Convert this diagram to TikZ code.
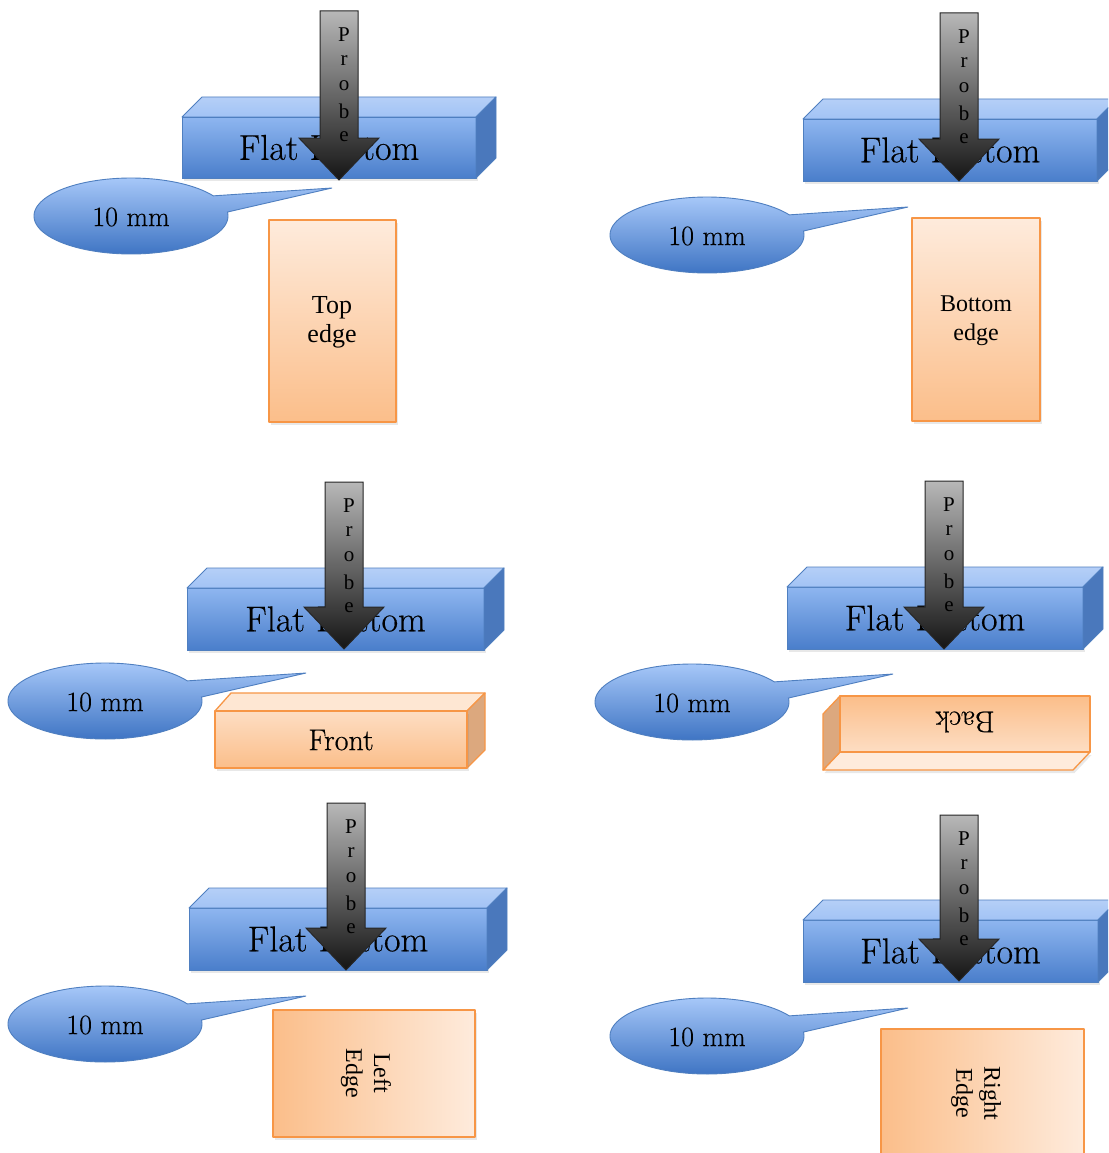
\documentclass[tikz,border=0pt]{standalone}
\usepackage{fontspec}
\usetikzlibrary{shadows}
\newfontfamily\timesf{Liberation Serif}
\newfontfamily\lmf[FakeBold=0.4]{Latin Modern Roman}
\definecolor{bedge}{HTML}{4F7FC0}
\definecolor{bfronttop}{HTML}{8EB6F0}
\definecolor{bfrontbot}{HTML}{4A7ECB}
\definecolor{btop}{HTML}{A2C3F5}
\definecolor{bright}{HTML}{4A78BC}
\definecolor{ctop}{HTML}{A6C7F8}
\definecolor{cbot}{HTML}{3F75C4}
\definecolor{oedge}{HTML}{F79646}
\definecolor{olight}{HTML}{FEEBDC}
\definecolor{odark}{HTML}{FBBE8A}
\definecolor{otopface}{HTML}{FEE7D3}
\definecolor{oside}{HTML}{DCA87E}
\tikzset{
  softshadow/.style={drop shadow={opacity=0.18, shadow xshift=1.5pt, shadow yshift=-3pt}},
  bluebox/.style={draw=bedge, line width=0.9pt, line join=round},
  flattext/.style={font=\lmf\fontsize{36}{40}\selectfont, inner sep=0pt},
  probestyle/.style={draw=black!85, line width=1pt, line join=miter, top color=black!28, bottom color=black!92},
  probetext/.style={font=\timesf\fontsize{21}{24}\selectfont, inner sep=0pt},
  callstyle/.style={draw=bedge, line width=0.9pt, top color=ctop, bottom color=cbot},
  mmtext/.style={font=\lmf\fontsize{28}{32}\selectfont, inner sep=0pt},
  orangebox/.style={draw=oedge, line width=1.3pt, line join=round},
  sampletext/.style={font=\timesf\fontsize{26}{29}\selectfont, align=center, inner sep=0pt},
  facetext/.style={font=\lmf\fontsize{30}{34}\selectfont, inner sep=0pt}
}
% flat bottom block: name, x1, y1, x2, y2 (front face)
\newcommand{\flatblock}[5]{%
  \draw[bluebox, softshadow, top color=bfronttop, bottom color=bfrontbot] (#2,#3) rectangle (#4,#5);
  \draw[bluebox, top color=btop!80!white, bottom color=btop] (#2,#3) -- ({#2+20},{#3-20}) -- ({#4+20},{#3-20}) -- (#4,#3) -- cycle;
  \draw[bluebox, fill=bright] (#4,#3) -- ({#4+20},{#3-20}) -- ({#4+20},{#5-20}) -- (#4,#5) -- cycle;
  \node[flattext] (#1) at ({(#2+#4)/2},{(#3+#5)/2}) {Flat Bottom};
}
% probe arrow: name, cx, ytop, ytip
\newcommand{\probearrow}[4]{%
  \draw[probestyle] ({#2-19},#3) -- ({#2+19},#3) -- ({#2+19},{#4-42}) -- ({#2+40},{#4-42}) -- (#2,#4) -- ({#2-40},{#4-42}) -- ({#2-19},{#4-42}) -- cycle;
  \foreach \l [count=\i] in {P,r,o,b,e}
    \node[probetext] (#1l\i) at ({#2+5},{#3+24+25.5*(\i-1)}) {\l};
}
% callout: name, cx, cy
\newcommand{\callout}[3]{%
  \draw[callstyle] ({#2+97*cos(-32)},{#3+38*sin(-32)}) -- ({#2+201},{#3-28})
    -- plot[domain=-6:328, samples=120] ({#2+97*cos(\x)},{#3+38*sin(\x)}) -- cycle;
  \node[mmtext] (#1) at (#2,{#3+1}) {10 mm};
}
\begin{document}
\begin{tikzpicture}[x=1pt, y=-1pt]
\clip (0,0) rectangle (1108,1153);
\fill[white] (0,0) rectangle (1108,1153);

% ---------- Panel 1: Top edge ----------
\flatblock{flat1}{182}{117}{476}{178}
\probearrow{probe1}{339}{11}{180}
\callout{call1}{131}{216}
\draw[orangebox, softshadow, top color=olight, bottom color=odark] (269,220) rectangle (396,422);
\node[sampletext] (samp1) at (332,322) {Top\\edge};

% ---------- Panel 2: Bottom edge ----------
\flatblock{flat2}{803}{119}{1097}{181}
\probearrow{probe2}{959}{13}{181}
\callout{call2}{707}{235}
\draw[orangebox, softshadow, top color=olight, bottom color=odark] (912,218) rectangle (1040,421);
\node[sampletext, font=\timesf\fontsize{24}{29}\selectfont] (samp2) at (976,321) {Bottom\\edge};

% ---------- Panel 3: Front ----------
\flatblock{flat3}{187}{588}{484}{650}
\probearrow{probe3}{344}{482}{649}
\callout{call3}{105}{701}
\draw[orangebox, fill=otopface] (215,711) -- (231,693) -- (485,693) -- (467,711) -- cycle;
\draw[orangebox, fill=oside] (467,711) -- (485,693) -- (485,750) -- (467,768) -- cycle;
\draw[orangebox, softshadow, top color=olight!70!odark, bottom color=odark] (215,711) rectangle (467,768);
\node[facetext] (samp3) at (341,740) {Front};

% ---------- Panel 4: Back ----------
\flatblock{flat4}{787}{587}{1083}{649}
\probearrow{probe4}{944}{481}{649}
\callout{call4}{692}{702}
\draw[orangebox, softshadow, fill=olight] (840,752) -- (1090,752) -- (1073,770) -- (823,770) -- cycle;
\draw[orangebox, fill=oside] (840,696) -- (823,714) -- (823,770) -- (840,752) -- cycle;
\draw[orangebox, top color=odark, bottom color=olight!70!odark] (840,696) rectangle (1090,752);
\node[facetext, rotate=180] (samp4) at (965,722) {Back};

% ---------- Panel 5: Left Edge ----------
\flatblock{flat5}{189}{908}{487}{970}
\probearrow{probe5}{346}{803}{970}
\callout{call5}{105}{1024}
\draw[orangebox, softshadow, left color=odark, right color=olight] (273,1010) rectangle (475,1137);
\node[sampletext, rotate=-90, font=\timesf\fontsize{24}{28}\selectfont] (samp5) at (366,1073) {Left\\Edge};

% ---------- Panel 6: Right Edge ----------
\flatblock{flat6}{803}{920}{1098}{982}
\probearrow{probe6}{959}{815}{981}
\callout{call6}{707}{1036}
\draw[orangebox, left color=odark, right color=olight] (881,1029) rectangle (1084,1170);
\node[sampletext, rotate=-90, font=\timesf\fontsize{24}{28}\selectfont] (samp6) at (976,1093) {Right\\Edge};
\end{tikzpicture}
\end{document}
